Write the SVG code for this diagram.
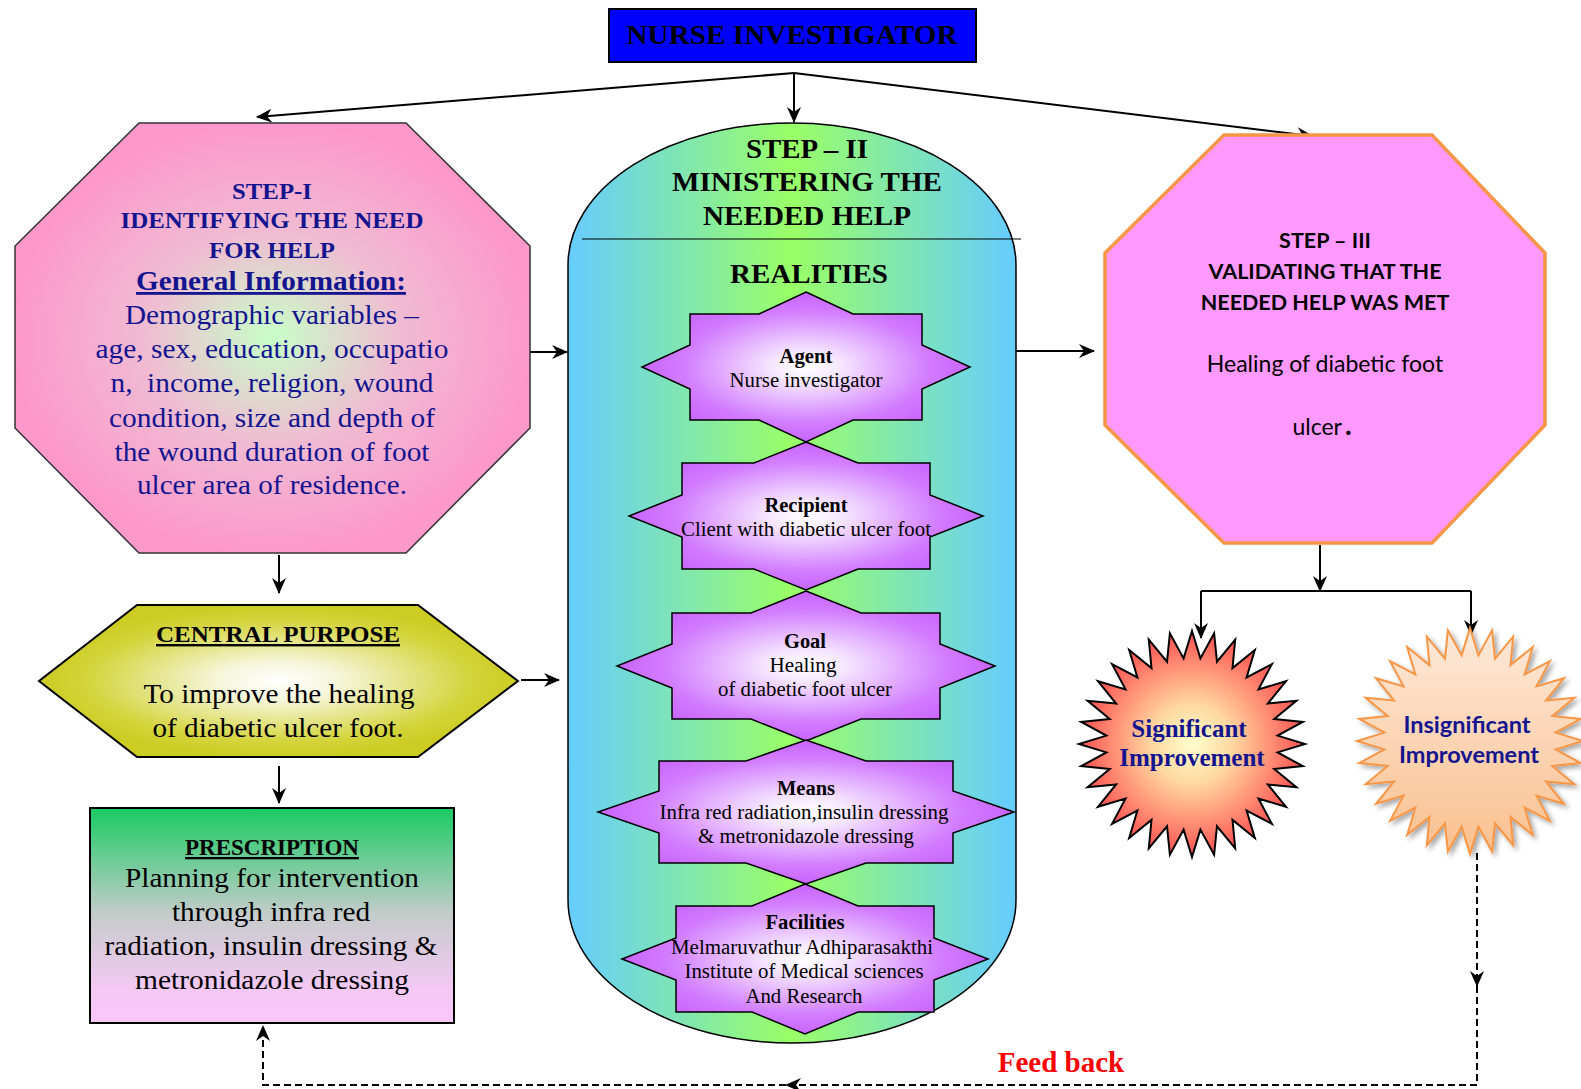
<svg xmlns="http://www.w3.org/2000/svg" width="1581" height="1089" viewBox="0 0 1581 1089">
<defs>
<style>
.serif{font-family:'Liberation Serif','Times New Roman',serif}
.sans{font-family:Lato,'Liberation Sans',sans-serif}
.b{font-weight:bold}
text{text-anchor:middle}
.conn{fill:none;stroke:#000;stroke-width:2}
.dash{stroke-dasharray:7 4}
.star8{stroke:#000;stroke-width:1.5;fill:url(#gStar)}
.navy{fill:#14148f}
.st{font-size:20.5px;fill:#000}
</style>
<radialGradient id="gStep1" cx="0.5" cy="0.5" r="0.5">
<stop offset="0" stop-color="#C8FFC8"/>
<stop offset="0.5" stop-color="#F0BBD2"/>
<stop offset="1" stop-color="#FD98CB"/>
</radialGradient>
<linearGradient id="gStep2" x1="0" y1="0" x2="1" y2="0">
<stop offset="0" stop-color="#66CCFF"/>
<stop offset="0.5" stop-color="#99FF66"/>
<stop offset="1" stop-color="#66CCFF"/>
</linearGradient>
<radialGradient id="gStar" cx="0.5" cy="0.5" r="0.5">
<stop offset="0" stop-color="#FFFFFF"/>
<stop offset="0.2" stop-color="#F6E8FF"/>
<stop offset="0.75" stop-color="#D27CFF"/>
<stop offset="1" stop-color="#C864FF"/>
</radialGradient>
<radialGradient id="gCP" cx="0.5" cy="0.5" r="0.5">
<stop offset="0" stop-color="#FFFFFF"/>
<stop offset="0.25" stop-color="#F6F6DC"/>
<stop offset="0.8" stop-color="#D4D43C"/>
<stop offset="1" stop-color="#CCCC22"/>
</radialGradient>
<linearGradient id="gPres" x1="0" y1="0" x2="0" y2="1">
<stop offset="0" stop-color="#19CB62"/>
<stop offset="0.5" stop-color="#C6CCCC"/>
<stop offset="0.85" stop-color="#F5C8F5"/>
<stop offset="1" stop-color="#F9C8F9"/>
</linearGradient>
<radialGradient id="gSig" cx="0.5" cy="0.5" r="0.5">
<stop offset="0" stop-color="#FFFFCC"/>
<stop offset="0.35" stop-color="#FFD8A0"/>
<stop offset="1" stop-color="#FF5050"/>
</radialGradient>
<linearGradient id="gIns" x1="0" y1="0" x2="0" y2="1">
<stop offset="0" stop-color="#FDE9D9"/>
<stop offset="1" stop-color="#FAC08F"/>
</linearGradient>
<filter id="shadow" x="-20%" y="-20%" width="140%" height="140%">
<feDropShadow dx="3" dy="3" stdDeviation="2.5" flood-color="#000" flood-opacity="0.35"/>
</filter>
<marker id="ah" viewBox="0 0 16 16" refX="15" refY="8" markerWidth="16" markerHeight="16" markerUnits="userSpaceOnUse" orient="auto">
<path d="M0,1 L16,8 L0,15 L5,8 Z" fill="#000"/>
</marker>
<path id="burst" d="M0,-113 L8.4,-85.6 L22.1,-110.8 L25,-82.3 L43.2,-104.4 L40.5,-75.9 L62.8,-94 L54.6,-66.5 L79.9,-79.9 L66.5,-54.6 L94,-62.8 L75.9,-40.5 L104.4,-43.2 L82.3,-25 L110.8,-22.1 L85.6,-8.4 L113,0 L85.6,8.4 L110.8,22.1 L82.3,25 L104.4,43.2 L75.9,40.5 L94,62.8 L66.5,54.6 L79.9,79.9 L54.6,66.5 L62.8,94 L40.5,75.9 L43.2,104.4 L25,82.3 L22.1,110.8 L8.4,85.6 L0,113 L-8.4,85.6 L-22.1,110.8 L-25,82.3 L-43.2,104.4 L-40.5,75.9 L-62.8,94 L-54.6,66.5 L-79.9,79.9 L-66.5,54.6 L-94,62.8 L-75.9,40.5 L-104.4,43.2 L-82.3,25 L-110.8,22.1 L-85.6,8.4 L-113,0 L-85.6,-8.4 L-110.8,-22.1 L-82.3,-25 L-104.4,-43.2 L-75.9,-40.5 L-94,-62.8 L-66.5,-54.6 L-79.9,-79.9 L-54.6,-66.5 L-62.8,-94 L-40.5,-75.9 L-43.2,-104.4 L-25,-82.3 L-22.1,-110.8 L-8.4,-85.6 Z"/>
</defs>
<rect width="1581" height="1089" fill="#FFFFFF"/>

<g id="connectors">
<path class="conn" d="M794,73 L257,117" marker-end="url(#ah)"/>
<path class="conn" d="M794,73 L794,122" marker-end="url(#ah)"/>
<path class="conn" d="M794,73 L1312,136" marker-end="url(#ah)"/>
<path class="conn" d="M530,352 L567,352" marker-end="url(#ah)"/>
<path class="conn" d="M1016,351 L1094,351" marker-end="url(#ah)"/>
<path class="conn" d="M279,555 L279,593" marker-end="url(#ah)"/>
<path class="conn" d="M521,680 L559,680" marker-end="url(#ah)"/>
<path class="conn" d="M279,766 L279,803" marker-end="url(#ah)"/>
<path class="conn" d="M1320,545 L1320,591" marker-end="url(#ah)"/>
<path class="conn" d="M1201,591 L1471,591"/>
<path class="conn" d="M1201,591 L1201,638" marker-end="url(#ah)"/>
<path class="conn" d="M1471,591 L1471,635" marker-end="url(#ah)"/>
<path class="conn dash" d="M1477,853 L1477,986" marker-end="url(#ah)"/>
<path class="conn dash" d="M1477,986 L1477,1085 L786,1085" marker-end="url(#ah)"/>
<path class="conn dash" d="M786,1085 L263,1085 L263,1026" marker-end="url(#ah)"/>
</g>

<g id="nurse-investigator">
<rect x="609" y="9" width="367" height="53" fill="#0000FF" stroke="#000" stroke-width="2"/>
<text x="792" y="44" class="serif b" font-size="28" fill="#000" textLength="331" lengthAdjust="spacingAndGlyphs">NURSE INVESTIGATOR</text>
</g>

<g id="step1">
<polygon points="139,123 406,123 530,246 530,428 406,553 139,553 15,428 15,246" fill="url(#gStep1)" stroke="#333" stroke-width="1.5"/>
<g class="serif navy">
<text x="272" y="199" class="b" font-size="23" textLength="80" lengthAdjust="spacingAndGlyphs">STEP-I</text>
<text x="272" y="228" class="b" font-size="23" textLength="303" lengthAdjust="spacingAndGlyphs">IDENTIFYING THE NEED</text>
<text x="272" y="258" class="b" font-size="23" textLength="126" lengthAdjust="spacingAndGlyphs">FOR HELP</text>
<text x="271" y="290" class="b" font-size="28" text-decoration="underline" textLength="270" lengthAdjust="spacingAndGlyphs">General Information:</text>
<text x="272" y="324" font-size="27" textLength="294" lengthAdjust="spacingAndGlyphs">Demographic variables –</text>
<text x="272" y="358" font-size="27" textLength="353" lengthAdjust="spacingAndGlyphs">age, sex, education, occupatio</text>
<text x="272" y="392" font-size="27" xml:space="preserve" textLength="323" lengthAdjust="spacingAndGlyphs">n,  income, religion, wound</text>
<text x="272" y="427" font-size="27" textLength="326" lengthAdjust="spacingAndGlyphs">condition, size and depth of</text>
<text x="272" y="461" font-size="27" textLength="315" lengthAdjust="spacingAndGlyphs">the wound duration of foot</text>
<text x="272" y="494" font-size="27" textLength="270" lengthAdjust="spacingAndGlyphs">ulcer area of residence.</text>
</g>
</g>

<g id="step2">
<path d="M568,265 A224,142 0 0 1 1016,265 L1016,900 A224,143 0 0 1 568,900 Z" fill="url(#gStep2)" stroke="#000" stroke-width="1.5"/>
<line x1="582" y1="239" x2="1021" y2="239" stroke="#000" stroke-width="1.2"/>
<g class="serif b" fill="#000">
<text x="807" y="158" font-size="28" textLength="122" lengthAdjust="spacingAndGlyphs">STEP – II</text>
<text x="807" y="191" font-size="28" textLength="270" lengthAdjust="spacingAndGlyphs">MINISTERING THE</text>
<text x="807" y="225" font-size="28" textLength="208" lengthAdjust="spacingAndGlyphs">NEEDED HELP</text>
<text x="809" y="283" font-size="28" textLength="158" lengthAdjust="spacingAndGlyphs">REALITIES</text>
</g>
</g>

<g id="agent">
<polygon class="star8" points="806,292 853,314 922,314 922,345 970,367 922,389 922,420 853,420 806,442 759,420 690,420 690,389 642,367 690,345 690,314 759,314"/>
<text x="806" y="363" class="serif b st" textLength="53" lengthAdjust="spacingAndGlyphs">Agent</text>
<text x="806" y="387" class="serif st" textLength="153" lengthAdjust="spacingAndGlyphs">Nurse investigator</text>
</g>

<g id="recipient">
<polygon class="star8" points="806,442 858,463 930,463 930,495 983,516 930,537 930,569 858,569 806,590 754,569 682,569 682,537 629,516 682,495 682,463 754,463"/>
<text x="806" y="512" class="serif b st" textLength="83" lengthAdjust="spacingAndGlyphs">Recipient</text>
<text x="806" y="536" class="serif st" textLength="250" lengthAdjust="spacingAndGlyphs">Client with diabetic ulcer foot</text>
</g>

<g id="goal">
<polygon class="star8" points="806,591 861,613 940,613 940,644 995,666 940,688 940,719 861,719 806,741 751,719 672,719 672,688 617,666 672,644 672,613 751,613"/>
<text x="805" y="648" class="serif b st" textLength="42" lengthAdjust="spacingAndGlyphs">Goal</text>
<text x="803" y="672" class="serif st" textLength="67" lengthAdjust="spacingAndGlyphs">Healing</text>
<text x="805" y="696" class="serif st" textLength="174" lengthAdjust="spacingAndGlyphs">of diabetic foot ulcer</text>
</g>

<g id="means">
<polygon class="star8" points="806,740 866,761 953,761 953,791 1014,812 953,833 953,863 866,863 806,884 746,863 659,863 659,833 598,812 659,791 659,761 746,761"/>
<text x="806" y="795" class="serif b st" textLength="58" lengthAdjust="spacingAndGlyphs">Means</text>
<text x="804" y="819" class="serif st" textLength="289" lengthAdjust="spacingAndGlyphs">Infra red radiation,insulin dressing</text>
<text x="806" y="843" class="serif st" textLength="216" lengthAdjust="spacingAndGlyphs">&amp; metronidazole dressing</text>
</g>

<g id="facilities">
<polygon class="star8" points="805,884 858,906 934,906 934,938 988,959 934,980 934,1012 858,1012 805,1034 752,1012 676,1012 676,980 622,959 676,938 676,906 752,906"/>
<text x="805" y="929" class="serif b st" textLength="79" lengthAdjust="spacingAndGlyphs">Facilities</text>
<text x="802" y="954" class="serif st" textLength="262" lengthAdjust="spacingAndGlyphs">Melmaruvathur Adhiparasakthi</text>
<text x="804" y="978" class="serif st" textLength="239" lengthAdjust="spacingAndGlyphs">Institute of Medical sciences</text>
<text x="804" y="1003" class="serif st" textLength="117" lengthAdjust="spacingAndGlyphs">And Research</text>
</g>

<g id="step3">
<polygon points="1224,135 1432,135 1545,253 1545,425 1432,543 1224,543 1105,425 1105,253" fill="#FF99FF" stroke="#F79646" stroke-width="3.5"/>
<g class="sans" fill="#000">
<text x="1325" y="248" class="b" font-size="21.5">STEP – III</text>
<text x="1325" y="279" class="b" font-size="21.5">VALIDATING THAT THE</text>
<text x="1325" y="310" class="b" font-size="21.5">NEEDED HELP WAS MET</text>
<text x="1325" y="372" font-size="23">Healing of diabetic foot</text>
<text x="1322" y="435" font-size="23">ulcer<tspan font-weight="bold" font-size="28" dx="3">.</tspan></text>
</g>
</g>

<g id="central-purpose">
<polygon points="137,605 418,605 518,681 418,757 137,757 39,681" fill="url(#gCP)" stroke="#000" stroke-width="2"/>
<text x="278" y="642" class="serif b" font-size="24" fill="#000" text-decoration="underline" textLength="244" lengthAdjust="spacingAndGlyphs">CENTRAL PURPOSE</text>
<text x="279" y="703" class="serif" font-size="28" fill="#000" textLength="271" lengthAdjust="spacingAndGlyphs">To improve the healing</text>
<text x="278" y="737" class="serif" font-size="28" fill="#000" textLength="251" lengthAdjust="spacingAndGlyphs">of diabetic ulcer foot.</text>
</g>

<g id="prescription">
<rect x="90" y="808" width="364" height="215" fill="url(#gPres)" stroke="#000" stroke-width="2"/>
<text x="272" y="855" class="serif b" font-size="23" fill="#000" text-decoration="underline" textLength="174" lengthAdjust="spacingAndGlyphs">PRESCRIPTION</text>
<text x="272" y="887" class="serif" font-size="28" fill="#000" textLength="294" lengthAdjust="spacingAndGlyphs">Planning for intervention</text>
<text x="271" y="921" class="serif" font-size="28" fill="#000" textLength="198" lengthAdjust="spacingAndGlyphs">through infra red</text>
<text x="271" y="955" class="serif" font-size="28" fill="#000" textLength="333" lengthAdjust="spacingAndGlyphs">radiation, insulin dressing &amp;</text>
<text x="272" y="989" class="serif" font-size="28" fill="#000" textLength="274" lengthAdjust="spacingAndGlyphs">metronidazole dressing</text>
</g>

<g id="significant">
<use href="#burst" transform="translate(1192,744)" fill="url(#gSig)" stroke="#000" stroke-width="2"/>
<text x="1189" y="737" class="serif b navy" font-size="25">Significant</text>
<text x="1192" y="766" class="serif b navy" font-size="25">Improvement</text>
</g>

<g id="insignificant">
<use href="#burst" transform="translate(1470,741)" fill="url(#gIns)" stroke="#F79646" stroke-width="2" filter="url(#shadow)"/>
<text x="1467" y="733" class="sans b navy" font-size="23.5">Insignificant</text>
<text x="1469" y="763" class="sans b navy" font-size="23.5">Improvement</text>
</g>

<g id="feedback-label">
<text x="1061" y="1072" class="serif b" font-size="29" fill="#FF0000">Feed back</text>
</g>
</svg>
